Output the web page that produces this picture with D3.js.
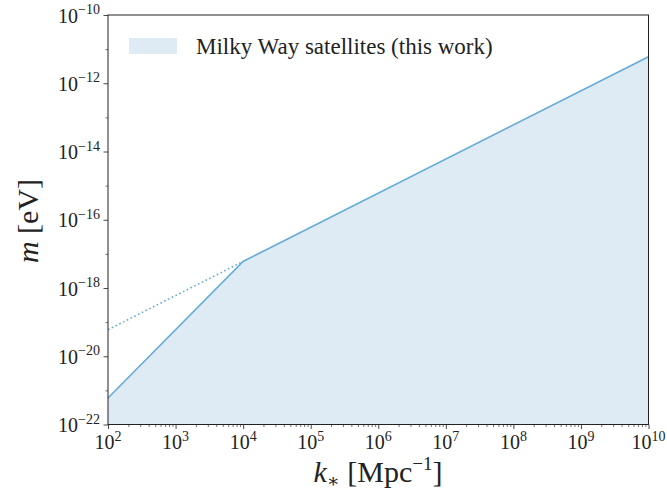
<!DOCTYPE html>
<html>
<head>
<meta charset="utf-8">
<script src="https://cdn.jsdelivr.net/npm/d3@7"></script>
<style>
  body { margin: 0; background: #fff; }
  text { font-family: "Liberation Serif", "DejaVu Serif", serif; fill: #222; }
</style>
</head>
<body>
<svg id="canvas" width="667" height="491"></svg>
<script>
// data
let kSolid = [1e2, 1e4, 1e10]
let mSolid = [6e-22, 6e-18, 6e-12]
let kDotted = [1e2, 1e4]
let mDotted = [6e-20, 6e-18]
let xTickPowers = [2, 3, 4, 5, 6, 7, 8, 9, 10]
let yTickPowers = [-22, -20, -18, -16, -14, -12, -10]
let legendLabel = 'Milky Way satellites (this work)'

let lineColor = '#64abd6'
let fillColor = '#deebf5'

let svg = d3.select('#canvas')

let plotLeft = 108, plotRight = 648.5, plotTop = 15, plotBottom = 424.5

let xScale = d3.scaleLog().domain([1e2, 1e10]).range([plotLeft, plotRight])
let yScale = d3.scaleLog().domain([1e-22, 1e-10]).range([plotBottom, plotTop])

// filled area under the solid bound
let solidPts = kSolid.map((k, i) => [k, mSolid[i]])
let area = d3.area()
    .x(d => xScale(d[0]))
    .y0(plotBottom)
    .y1(d => yScale(d[1]))
svg.append('path')
    .datum(solidPts)
    .attr('d', area)
    .attr('fill', fillColor)

let line = d3.line()
    .x(d => xScale(d[0]))
    .y(d => yScale(d[1]))

svg.append('path')
    .datum(solidPts)
    .attr('d', line)
    .attr('fill', 'none')
    .attr('stroke', lineColor)
    .attr('stroke-width', 1.6)

svg.append('path')
    .datum(kDotted.map((k, i) => [k, mDotted[i]]))
    .attr('d', line)
    .attr('fill', 'none')
    .attr('stroke', lineColor)
    .attr('stroke-width', 1.6)
    .attr('stroke-dasharray', '1.6,2.6')

// minor ticks on x
let xMinor = []
for (let p = 2; p < 10; p++) {
    for (let j = 2; j <= 9; j++) xMinor.push(j * Math.pow(10, p))
}
svg.append('g')
    .attr('transform', 'translate(0,' + plotBottom + ')')
    .call(d3.axisBottom(xScale).tickValues(xMinor).tickSize(2.5).tickFormat(''))
    .call(g => g.select('.domain').remove())
    .call(g => g.selectAll('line').attr('stroke', '#333').attr('stroke-width', 0.7))

// minor ticks on y (skipped decades)
let yMinor = yTickPowers.slice(0, -1).map(p => Math.pow(10, p + 1))
svg.append('g')
    .attr('transform', 'translate(' + plotLeft + ',0)')
    .call(d3.axisLeft(yScale).tickValues(yMinor).tickSize(2.5).tickFormat(''))
    .call(g => g.select('.domain').remove())
    .call(g => g.selectAll('line').attr('stroke', '#333').attr('stroke-width', 0.7))

// major ticks
let xAxis = svg.append('g')
    .attr('transform', 'translate(0,' + plotBottom + ')')
    .call(d3.axisBottom(xScale).tickValues(xTickPowers.map(p => Math.pow(10, p))).tickSize(4.5).tickFormat(''))
xAxis.select('.domain').remove()
xAxis.selectAll('line').attr('stroke', '#333').attr('stroke-width', 0.9)

let yAxis = svg.append('g')
    .attr('transform', 'translate(' + plotLeft + ',0)')
    .call(d3.axisLeft(yScale).tickValues(yTickPowers.map(p => Math.pow(10, p))).tickSize(4.5).tickFormat(''))
yAxis.select('.domain').remove()
yAxis.selectAll('line').attr('stroke', '#333').attr('stroke-width', 0.9)

// tick labels as 10^n
xTickPowers.forEach(p => {
    let t = svg.append('text')
        .attr('x', xScale(Math.pow(10, p)))
        .attr('y', 449)
        .attr('text-anchor', 'middle')
        .style('font-size', '20px')
    t.append('tspan').text('10')
    t.append('tspan').text(p).attr('dy', -8).style('font-size', '14px')
})

yTickPowers.forEach(p => {
    let t = svg.append('text')
        .attr('x', 100)
        .attr('y', yScale(Math.pow(10, p)) + 7.5)
        .attr('text-anchor', 'end')
        .style('font-size', '20px')
    t.append('tspan').text('10')
    t.append('tspan').text('\u2212' + Math.abs(p)).attr('dy', -8.5).style('font-size', '14px')
})

// frame
svg.append('rect')
    .attr('x', plotLeft).attr('y', plotTop)
    .attr('width', plotRight - plotLeft).attr('height', plotBottom - plotTop)
    .attr('fill', 'none')
    .attr('stroke', '#222')
    .attr('stroke-width', 1)

// axis labels
let xl = svg.append('text')
    .attr('x', 378)
    .attr('y', 482)
    .attr('text-anchor', 'middle')
    .style('font-size', '30px')
xl.append('tspan').text('k').style('font-style', 'italic')
xl.append('tspan').text('\u2217').attr('dy', 5).style('font-size', '19px')
xl.append('tspan').text(' [Mpc').attr('dy', -5)
xl.append('tspan').text('\u22121').attr('dy', -12).style('font-size', '19px')
xl.append('tspan').text(']').attr('dy', 12)

let yl = svg.append('text')
    .attr('transform', 'translate(38,221) rotate(-90)')
    .attr('text-anchor', 'middle')
    .style('font-size', '30px')
yl.append('tspan').text('m').style('font-style', 'italic')
yl.append('tspan').text(' [eV]')

// legend
svg.append('rect')
    .attr('x', 129).attr('y', 38)
    .attr('width', 48).attr('height', 16)
    .attr('fill', fillColor)
svg.append('text')
    .attr('x', 196).attr('y', 54)
    .style('font-size', '23px')
    .text(legendLabel)
</script>
</body>
</html>
